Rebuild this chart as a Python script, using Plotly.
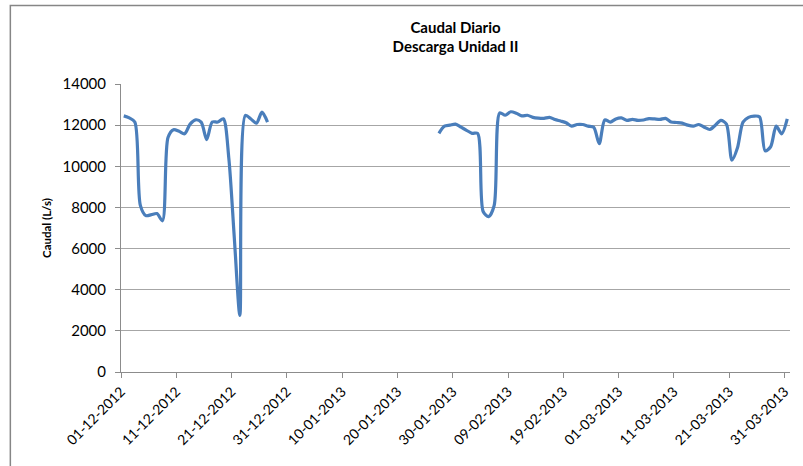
import pandas as pd
import plotly.graph_objects as go

# Daily dates, 01-12-2012 .. 31-03-2013
dates = pd.date_range("2012-12-01", "2013-03-31", freq="D")

# Series values (L/s)
dec_values = [12450, 12350, 12150, 8100, 7600, 7650, 7700, 7350, 11400, 11780,
              11700, 11580, 12050, 12260, 12150, 11300, 12150, 12150, 12310, 10400,
              6500, 2750, 12470, 12300, 12100, 12630, 12150]          # 01-12 .. 27-12
gap_days = 30                                                        # 28-12 .. 26-01 (no data)
late_values = [11600, 11950, 12000, 12050, 11900, 11750, 11600, 11600, 7800, 7550,
               8100, 12600, 12480, 12650, 12580, 12450, 12480, 12380, 12340, 12330,
               12380, 12270, 12200, 12120, 11950, 12030, 12030, 11950, 11900, 11100,
               12250, 12150, 12300, 12350, 12230, 12280, 12230, 12250, 12320, 12300,
               12280, 12330, 12150, 12130, 12100, 12000, 11950, 12030, 11900, 11790,
               12000, 12230, 12050, 10300, 10900, 12150, 12380, 12440, 12400, 10750,
               10950, 11950, 11580, 12300]                            # 27-01 .. 31-03

values = dec_values + [None] * gap_days + late_values

y_ticks = [0, 2000, 4000, 6000, 8000, 10000, 12000, 14000]

FONT = "Lato"
GRAY = "#8c8c8c"

fig = go.Figure()
fig.add_trace(go.Scatter(
    x=dates, y=values, mode="lines",
    line=dict(color="#4a7ebb", width=3.2, shape="spline", smoothing=0.8),
    xperiod=86400000, xperiodalignment="middle",
    connectgaps=False, showlegend=False, hoverinfo="x+y",
))

fig.update_layout(
    width=803, height=466,
    margin=dict(l=121, r=13, t=84, b=94),
    paper_bgcolor="white", plot_bgcolor="white",
    font=dict(family=FONT, color="#000000", size=15),
    title=dict(text="<b>Caudal Diario</b><br><b>Descarga Unidad II</b>",
               x=0.5, xref="paper", xanchor="center",
               y=0.93, yref="container", yanchor="top",
               font=dict(family=FONT, size=15, color="#000000")),
    shapes=[dict(type="rect", xref="paper", yref="paper",
                 x0=-0.1654, x1=1.03, y0=-0.35, y1=1.2726,
                 line=dict(color="#868686", width=1.5), fillcolor="rgba(0,0,0,0)",
                 layer="below")],
)

fig.update_xaxes(
    type="date",
    range=["2012-12-01", "2013-04-01"],
    tick0="2012-12-01", dtick=10 * 86400000,
    tickformat="%d-%m-%Y", tickangle=-45,
    ticks="outside", ticklen=5, tickcolor=GRAY,
    showgrid=False, showline=True, linecolor=GRAY, linewidth=1,
    tickfont=dict(family=FONT, size=14, color="#000000"),
    zeroline=False,
)

fig.update_yaxes(
    range=[0, 14000], tickvals=y_ticks, ticktext=[str(v) for v in y_ticks],
    ticks="outside", ticklen=5, tickcolor=GRAY,
    ticklabelstandoff=6,
    showgrid=True, gridcolor="#a6a6a6", gridwidth=1,
    showline=True, linecolor=GRAY, linewidth=1,
    tickfont=dict(family=FONT, size=15, color="#000000"),
    title=dict(text="<b>Caudal (L/s)</b>", standoff=8,
               font=dict(family=FONT, size=11.5, color="#000000")),
    zeroline=False,
)

fig.write_html("out.html")
